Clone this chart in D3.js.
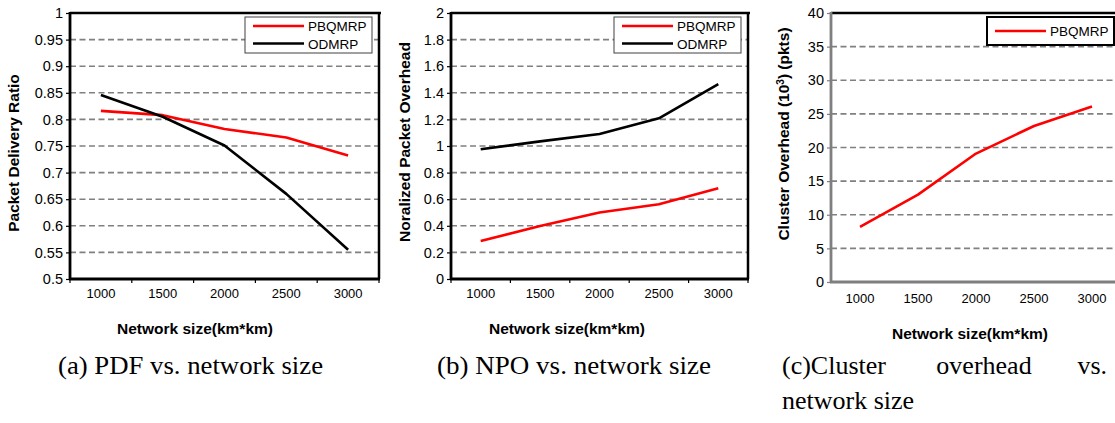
<!DOCTYPE html>
<html lang="en">
<head>
<meta charset="UTF-8">
<title>PBQMRP vs ODMRP</title>
<script src="https://d3js.org/d3.v7.min.js"></script>
<style>
  body { margin: 0; background: #fff; }
  svg { display: block; }
  .tick text { font-family: "Liberation Sans", Arial, sans-serif; fill: #000; }
  .title { font-family: "Liberation Sans", Arial, sans-serif; font-weight: bold; font-size: 15.5px; }
  .legend text { font-family: "Liberation Sans", Arial, sans-serif; font-size: 13.5px; }
  .caption { font-family: "Liberation Serif", "Times New Roman", serif; font-size: 26px; }
</style>
</head>
<body>
<svg width="1115" height="423"></svg>
<script>
// data
const sizes = ["1000", "1500", "2000", "2500", "3000"];
const pdfPBQMRP = [0.816, 0.808, 0.782, 0.766, 0.732];
const pdfODMRP = [0.846, 0.805, 0.751, 0.660, 0.555];
const npoPBQMRP = [0.286, 0.398, 0.500, 0.562, 0.682];
const npoODMRP = [0.975, 1.035, 1.090, 1.208, 1.466];
const clusterPBQMRP = [8.2, 13.0, 19.1, 23.2, 26.1];

const pdfTicks = [0.5, 0.55, 0.6, 0.65, 0.7, 0.75, 0.8, 0.85, 0.9, 0.95, 1];
const npoTicks = [0, 0.2, 0.4, 0.6, 0.8, 1, 1.2, 1.4, 1.6, 1.8, 2];
const clusterTicks = [0, 5, 10, 15, 20, 25, 30, 35, 40];

const svg = d3.select("svg");

function panel(cfg) {
    const g = svg.append("g");
    const x = d3.scaleBand().domain(sizes).range([cfg.left, cfg.right]);
    const y = d3.scaleLinear().domain(cfg.yDomain).range([cfg.bottom, cfg.top]);

    // dashed gridlines
    g.selectAll(".grid")
        .data(cfg.yTicks.slice(1, cfg.yTicks.length - 1))
        .enter().append("line")
        .attr("x1", cfg.left).attr("x2", cfg.right)
        .attr("y1", d => y(d)).attr("y2", d => y(d))
        .attr("stroke", "#808080")
        .attr("stroke-width", 1.6)
        .attr("stroke-dasharray", "6,3.5");

    // y axis labels + little ticks
    const ya = g.append("g")
        .attr("transform", `translate(${cfg.left},0)`)
        .call(d3.axisLeft(y).tickValues(cfg.yTicks).tickSize(4).tickPadding(3)
            .tickFormat(d => String(+d.toFixed(2))));
    ya.select(".domain").remove();
    ya.selectAll(".tick line").attr("stroke", cfg.axisColor).attr("stroke-width", 1.2);
    ya.selectAll(".tick text").style("font-size", "14.5px");

    // x axis labels
    const xa = g.append("g")
        .attr("transform", `translate(0,${cfg.bottom})`)
        .call(d3.axisBottom(x).tickSize(0).tickPadding(cfg.xPad));
    xa.select(".domain").remove();
    xa.selectAll(".tick text").style("font-size", "13px");

    if (cfg.boundaryTicks) {
        g.selectAll(".bt")
            .data(d3.range(sizes.length + 1))
            .enter().append("line")
            .attr("x1", i => cfg.left + i * x.step()).attr("x2", i => cfg.left + i * x.step())
            .attr("y1", cfg.bottom).attr("y2", cfg.bottom + 4)
            .attr("stroke", "#000").attr("stroke-width", 1.2);
    }

    // frame
    const fr = g.append("g").attr("fill", "none");
    fr.append("line").attr("x1", cfg.left).attr("x2", cfg.right + 2)
        .attr("y1", cfg.top).attr("y2", cfg.top).attr("stroke", "#000").attr("stroke-width", 2.5);
    fr.append("line").attr("x1", cfg.right).attr("x2", cfg.right)
        .attr("y1", cfg.top).attr("y2", cfg.bottom).attr("stroke", "#000").attr("stroke-width", 2.5);
    fr.append("line").attr("x1", cfg.left).attr("x2", cfg.left)
        .attr("y1", cfg.top - 1).attr("y2", cfg.bottom + 1).attr("stroke", cfg.axisColor).attr("stroke-width", 2.8);
    fr.append("line").attr("x1", cfg.left - 1).attr("x2", cfg.right + 1)
        .attr("y1", cfg.bottom).attr("y2", cfg.bottom).attr("stroke", cfg.axisColor).attr("stroke-width", 2.8);

    // series
    const line = d3.line()
        .x((d, i) => x(sizes[i]) + x.bandwidth() / 2)
        .y(d => y(d));
    cfg.series.forEach(s => {
        g.append("path")
            .datum(s.values)
            .attr("d", line)
            .attr("fill", "none")
            .attr("stroke", s.color)
            .attr("stroke-width", 2.6)
            .attr("stroke-linejoin", "round");
    });

    // legend
    const lg = g.append("g").attr("class", "legend");
    const lw = 127, lh = cfg.series.length === 1 ? 28 : 36;
    const lx = cfg.right - 7 - lw, ly = cfg.top + 4;
    lg.append("rect").attr("x", lx).attr("y", ly).attr("width", lw).attr("height", lh)
        .attr("fill", "#fff").attr("stroke", cfg.legendStroke).attr("stroke-width", cfg.legendWidth);
    cfg.series.forEach((s, i) => {
        const yy = ly + (cfg.series.length === 1 ? 14 : 9 + i * 17.5);
        lg.append("line").attr("x1", lx + 8).attr("x2", lx + 59)
            .attr("y1", yy).attr("y2", yy).attr("stroke", s.color).attr("stroke-width", 2.6);
        lg.append("text").attr("x", lx + 63).attr("y", yy + 5).text(s.name);
    });

    // axis titles
    if (cfg.yTitle) {
        g.append("text").attr("class", "title")
            .attr("transform", `translate(${cfg.yTitleX},${cfg.yTitleY}) rotate(-90)`)
            .attr("text-anchor", "middle")
            .text(cfg.yTitle);
    }
    g.append("text").attr("class", "title")
        .attr("x", cfg.xTitleX).attr("y", cfg.xTitleY)
        .attr("text-anchor", "middle")
        .text("Network size(km*km)");
}

panel({
    left: 70, right: 379, top: 13, bottom: 279,
    yDomain: [0.5, 1], yTicks: pdfTicks, xPad: 10, boundaryTicks: true,
    axisColor: "#000", legendStroke: "#404040", legendWidth: 1,
    series: [
        { name: "PBQMRP", color: "#ff0000", values: pdfPBQMRP },
        { name: "ODMRP", color: "#000", values: pdfODMRP }
    ],
    yTitle: "Packet Delivery Ratio", yTitleX: 19, yTitleY: 153,
    xTitleX: 195, xTitleY: 334
});

panel({
    left: 451, right: 748, top: 13, bottom: 279,
    yDomain: [0, 2], yTicks: npoTicks, xPad: 10, boundaryTicks: true,
    axisColor: "#000", legendStroke: "#404040", legendWidth: 1,
    series: [
        { name: "PBQMRP", color: "#ff0000", values: npoPBQMRP },
        { name: "ODMRP", color: "#000", values: npoODMRP }
    ],
    yTitle: "Noralized Packet Overhead", yTitleX: 410, yTitleY: 142,
    xTitleX: 567, xTitleY: 334
});

panel({
    left: 831, right: 1121, top: 13, bottom: 282,
    yDomain: [0, 40], yTicks: clusterTicks, xPad: 12, boundaryTicks: false,
    axisColor: "#7f7f7f", legendStroke: "#000", legendWidth: 2,
    series: [
        { name: "PBQMRP", color: "#ff0000", values: clusterPBQMRP }
    ],
    yTitle: "", yTitleX: 789, yTitleY: 134,
    xTitleX: 970, xTitleY: 339
});

// y title for (c) with superscript
const ct = svg.append("text").attr("class", "title")
    .attr("transform", "translate(789,134) rotate(-90)")
    .attr("text-anchor", "middle");
ct.append("tspan").text("Cluster Overhead (10");
ct.append("tspan").attr("dy", -5).style("font-size", "10px").text("3");
ct.append("tspan").attr("dy", 5).text(") (pkts)");

// captions
const cap = svg.append("g").attr("class", "caption");
cap.append("text").attr("x", 58).attr("y", 374)
    .attr("textLength", 265).attr("lengthAdjust", "spacingAndGlyphs").text("(a) PDF vs. network size");
cap.append("text").attr("x", 437).attr("y", 374)
    .attr("textLength", 274).attr("lengthAdjust", "spacingAndGlyphs").text("(b) NPO vs. network size");
// (c) caption is justified across the column
cap.append("text").attr("x", 782).attr("y", 374).text("(c)Cluster");
cap.append("text").attr("x", 984).attr("y", 374).attr("text-anchor", "middle").text("overhead");
cap.append("text").attr("x", 1107).attr("y", 374).attr("text-anchor", "end").text("vs.");
cap.append("text").attr("x", 782).attr("y", 409).text("network size");
</script>
</body>
</html>
